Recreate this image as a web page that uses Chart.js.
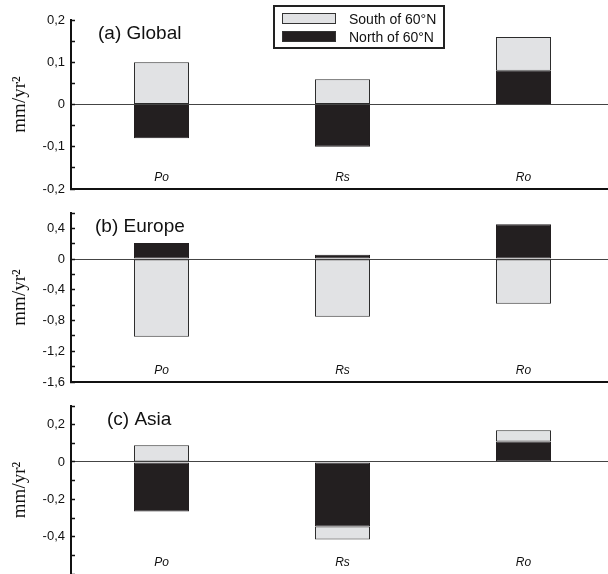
<!DOCTYPE html>
<html>
<head>
<meta charset="utf-8">
<script src="https://cdn.jsdelivr.net/npm/chart.js@4/dist/chart.umd.min.js"></script>
<style>
    html, body { margin: 0; padding: 0; width: 608px; height: 574px; overflow: hidden; background: #fff; }
    .panel { position: absolute; left: 0; width: 614px; }
</style>
</head>
<body>
<div class="panel" style="top:0;height:200px"><canvas id="chartGlobal"></canvas></div>
<div class="panel" style="top:192px;height:201px"><canvas id="chartEurope"></canvas></div>
<div class="panel" style="top:385px;height:189px"><canvas id="chartAsia"></canvas></div>
<script>
const categories = ['Po', 'Rs', 'Ro'];
const northLabel = 'North of 60°N';
const southLabel = 'South of 60°N';
const yUnit = 'mm/yr²';

// values per panel (stacked: north first, south on top of it)
const globalNorth = [-0.08, -0.10, 0.08];
const globalSouth = [0.10, 0.06, 0.08];
const europeNorth = [0.21, 0.055, 0.455];
const europeSouth = [-1.01, -0.75, -0.58];
const asiaNorth = [-0.265, -0.345, 0.11];
const asiaSouth = [0.09, -0.07, 0.06];

// y axis: [min, max, minor tick step]
const globalAxis = [-0.2, 0.2, 0.05];
const europeAxis = [-1.6, 0.6, 0.2];
const asiaAxis = [-0.6, 0.3, 0.1];

// labelled ticks
const globalTickLabels = [0.2, 0.1, 0, -0.1, -0.2];
const europeTickLabels = [0.4, 0, -0.4, -0.8, -1.2, -1.6];
const asiaTickLabels = [0.2, 0, -0.2, -0.4];

const NORTH_COLOR = '#231f20';
const SOUTH_COLOR = '#e1e2e4';
const INK = '#111';
const SANS = '"Liberation Sans", Arial, Helvetica, sans-serif';

const panelText = {
    id: 'panelText',
    afterDatasetsDraw(chart, args, opts) {
        const { ctx } = chart;
        const x = chart.scales.x;
        const y = chart.scales.y;
        ctx.save();
        ctx.fillStyle = INK;
        ctx.font = '19px ' + SANS;
        ctx.textAlign = 'left';
        ctx.textBaseline = 'alphabetic';
        ctx.fillText(opts.title, opts.titleX, y.top + 19);

        ctx.font = 'italic 12px ' + SANS;
        ctx.textAlign = 'center';
        categories.forEach((c, i) => {
            ctx.fillText(c, x.getPixelForValue(i), y.bottom - 8);
        });

        if (opts.legend) {
            // boxed legend, south first
            const items = [...chart.data.datasets].reverse();
            ctx.fillStyle = '#fff';
            ctx.fillRect(273, 5, 171, 43);
            ctx.lineWidth = 2;
            ctx.strokeStyle = '#222';
            ctx.strokeRect(274, 6, 170, 42);
            ctx.font = '14px ' + SANS;
            ctx.textAlign = 'left';
            items.forEach((ds, i) => {
                const top = 13 + i * 18;
                ctx.fillStyle = ds.backgroundColor;
                ctx.fillRect(282, top, 54, 11);
                ctx.lineWidth = 1;
                ctx.strokeStyle = '#333';
                ctx.strokeRect(282.5, top + 0.5, 53, 10);
                ctx.fillStyle = INK;
                ctx.fillText(ds.label, 349, top + 11);
            });
        }
        ctx.restore();
    }
};

function formatTick(v, labelled) {
    if (!labelled.some(t => Math.abs(t - v) < 1e-6)) return '';
    if (Math.abs(v) < 1e-9) return '0';
    return v.toFixed(1).replace('.', ',');
}

function makeChart(id, north, south, axis, tickLabels, title, titleX, opts) {
    const bar = {
        borderWidth: 1,
        borderSkipped: false,
        barPercentage: 0.304,
        categoryPercentage: 1
    };
    return new Chart(document.getElementById(id), {
        type: 'bar',
        data: {
            labels: categories,
            datasets: [
                { ...bar, label: northLabel, data: north, backgroundColor: NORTH_COLOR, borderColor: NORTH_COLOR },
                { ...bar, label: southLabel, data: south, backgroundColor: SOUTH_COLOR, borderColor: '#2b2b2b' }
            ]
        },
        options: {
            responsive: true,
            maintainAspectRatio: false,
            animation: false,
            layout: { padding: { top: opts.padTop, bottom: opts.padBottom, left: 0, right: 0 } },
            plugins: {
                legend: { display: false },
                tooltip: { enabled: false },
                panelText: { title: title, titleX: titleX, legend: !!opts.legend }
            },
            scales: {
                x: {
                    type: 'category',
                    offset: true,
                    stacked: true,
                    grid: { display: false, drawTicks: false },
                    ticks: { display: false },
                    border: { display: opts.xAxis, color: INK, width: 2 }
                },
                y: {
                    stacked: true,
                    min: axis[0],
                    max: axis[1],
                    border: { display: true, color: INK, width: 2 },
                    grid: {
                        drawOnChartArea: true,
                        color: c => (c.tick && Math.abs(c.tick.value) < 1e-9) ? '#444' : 'rgba(0,0,0,0)',
                        lineWidth: 1,
                        tickColor: INK,
                        tickWidth: 1.5,
                        tickLength: -4
                    },
                    ticks: {
                        stepSize: axis[2],
                        autoSkip: false,
                        padding: 10,
                        color: INK,
                        font: { family: SANS, size: 13 },
                        callback: v => formatTick(v, tickLabels)
                    },
                    title: {
                        display: true,
                        text: yUnit,
                        color: INK,
                        font: { family: '"Liberation Serif", "Times New Roman", serif', size: 19 },
                        padding: { top: 9, bottom: 0 }
                    },
                    afterFit: s => {
                        s.width = 71;
                        s.paddingTop = 0;
                        s.paddingBottom = 0;
                    }
                }
            }
        },
        plugins: [panelText]
    });
}

makeChart('chartGlobal', globalNorth, globalSouth, globalAxis, globalTickLabels, '(a) Global', 98,
    { padTop: 20, padBottom: 11, xAxis: true, legend: true });
makeChart('chartEurope', europeNorth, europeSouth, europeAxis, europeTickLabels, '(b) Europe', 95,
    { padTop: 21, padBottom: 11, xAxis: true });
makeChart('chartAsia', asiaNorth, asiaSouth, asiaAxis, asiaTickLabels, '(c) Asia', 107,
    { padTop: 21, padBottom: 0, xAxis: false });
</script>
</body>
</html>
